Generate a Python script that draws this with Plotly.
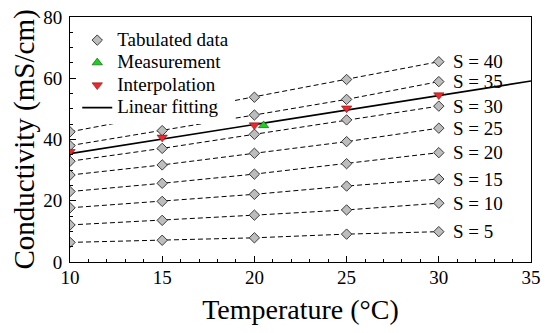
import plotly.graph_objects as go

temps = [10, 15, 20, 25, 30]
salinities = [40, 35, 30, 25, 20, 15, 10, 5]
tabulated = {
    40: [42.5, 48.2, 53.8, 59.6, 65.4],
    35: [38.0, 42.9, 48.0, 53.1, 58.9],
    30: [32.9, 37.1, 41.7, 46.4, 50.9],
    25: [28.4, 31.7, 35.5, 39.3, 43.7],
    20: [23.0, 25.7, 28.7, 32.1, 35.7],
    15: [17.7, 19.8, 22.1, 24.8, 27.1],
    10: [12.1, 13.6, 15.3, 17.0, 19.2],
    5: [6.4, 7.1, 7.9, 9.1, 9.9],
}
interp_temps = [10, 15, 20, 25, 30]
interp_vals = [36.0, 40.7, 44.7, 50.2, 54.5]
meas_temp = [20.5]
meas_val = [44.6]
fit_temps = [10, 35]
fit_vals = [35.4, 59.1]

FONT = "Liberation Serif"


def leg(name):
    return f'<span style="font-size:19px">{name}</span>'


fig = go.Figure()

# dashed connecting lines per salinity
for s in salinities:
    fig.add_trace(go.Scatter(
        x=temps, y=tabulated[s], mode="lines",
        line=dict(color="black", width=1, dash="5px,3px"),
        showlegend=False, hoverinfo="skip"))

# linear fitting
fig.add_trace(go.Scatter(
    x=fit_temps, y=fit_vals, mode="lines", name=leg("Linear fitting"),
    line=dict(color="black", width=1.6), legendrank=4))

# tabulated markers
all_x, all_y = [], []
for s in salinities:
    all_x += temps
    all_y += tabulated[s]
fig.add_trace(go.Scatter(
    x=all_x, y=all_y, mode="markers", name=leg("Tabulated data"),
    marker=dict(symbol="diamond", size=8, color="#bdbdbd",
                line=dict(color="#3a3a3a", width=1)),
    legendrank=1))

fig.add_trace(go.Scatter(
    x=interp_temps, y=interp_vals, mode="markers", name=leg("Interpolation"),
    marker=dict(symbol="triangle-down", size=9, color="#f0262b",
                line=dict(color="#7a1010", width=0.6)),
    legendrank=3))

fig.add_trace(go.Scatter(
    x=meas_temp, y=meas_val, mode="markers", name=leg("Measurement"),
    marker=dict(symbol="triangle-up", size=9, color="#19d11e",
                line=dict(color="#0a4a0a", width=0.6)),
    legendrank=2))

for s in salinities:
    fig.add_annotation(
        x=temps[-1], y=tabulated[s][-1], text=f"S = {s}",
        xanchor="left", yanchor="middle", xshift=12, showarrow=False,
        font=dict(family=FONT, size=19, color="black"))

axis_common = dict(
    showline=True, linecolor="black", linewidth=1, mirror=True,
    ticks="inside", ticklen=6, tickwidth=1, tickcolor="black",
    showgrid=False, zeroline=False, automargin=False,
    ticklabeloverflow="allow",
    tickfont=dict(family=FONT, size=19, color="black"),
)

fig.update_xaxes(
    range=[10, 35], tickvals=[10, 15, 20, 25, 30, 35],
    minor=dict(ticks="inside", ticklen=3, dtick=1, tickcolor="black"),
    title=dict(text="Temperature (°C)", font=dict(family=FONT, size=28, color="black"), standoff=12),
    ticklabelstandoff=-2,
    **axis_common)
fig.update_yaxes(
    range=[0, 80], tickvals=[0, 20, 40, 60, 80],
    minor=dict(ticks="inside", ticklen=3, dtick=5, tickcolor="black"),
    title=dict(text="Conductivity (mS/cm)", font=dict(family=FONT, size=29, color="black"), standoff=6),
    ticklabelstandoff=3,
    **axis_common)

# page body has an 8px default margin: figure is sized/margined to compensate
fig.update_layout(
    width=542, height=325,
    margin=dict(l=62, r=19, t=9, b=71),
    plot_bgcolor="white", paper_bgcolor="white",
    font=dict(family=FONT, color="black"),
    legend=dict(x=0.0157, y=0.972, xanchor="left", yanchor="top",
                bgcolor="white", borderwidth=0,
                font=dict(family=FONT, size=15, color="black"),
                tracegroupgap=0),
    showlegend=True,
)

fig.write_html("out.html")
